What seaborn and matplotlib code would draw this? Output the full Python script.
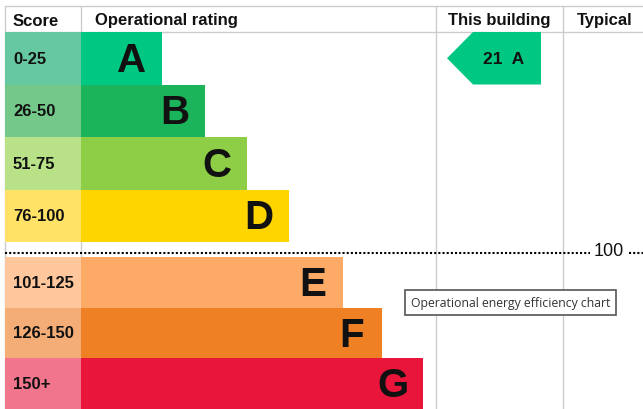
import matplotlib
matplotlib.use("Agg")
import matplotlib.pyplot as plt
import seaborn as sns
from matplotlib.patches import Polygon, Rectangle

# ==============================
# DATA
# ==============================

bands = ["A", "B", "C", "D", "E", "F", "G"]
score_ranges = ["0-25", "26-50", "51-75", "76-100", "101-125", "126-150", "150+"]
# length of each rating bar (px units)
bar_lengths = [81, 124, 166, 208, 262, 301, 342]
bar_colors = ["#00c781", "#1bb45a", "#8dce46", "#ffd500", "#fcaa65", "#ef8023", "#e9153b"]
score_colors = ["#66c8a0", "#74c98a", "#b9e188", "#ffe266", "#ffc79b", "#f4ad76", "#f2758e"]

building_score = 21
building_band = "A"
threshold = 100
headers = ["Score", "Operational rating", "This building", "Typical"]
tooltip = "Operational energy efficiency chart"

# ==============================
# LAYOUT (pixels)
# ==============================

W, H = 643, 410
LEFT = 5
SCORE_W = 76
COL_X = [5, 81, 436, 563]
HEADER_TEXT_X = [13, 95, 448, 577]
INK = "#111111"

sns.set_style("white")
plt.rcParams["font.family"] = ["Liberation Sans", "DejaVu Sans"]
plt.rcParams["text.color"] = INK

fig = plt.figure(figsize=(W / 100, H / 100), dpi=100)

# background axes in pixel coordinates
bg = fig.add_axes([0, 0, 1, 1])
bg.set_xlim(0, W)
bg.set_ylim(H, 0)
bg.axis("off")

grid_c = "#cccccc"
bg.plot([LEFT, W], [7, 7], color=grid_c, lw=1)
bg.plot([LEFT, W], [33, 33], color=grid_c, lw=1)
for x in COL_X:
    bg.plot([x, x], [7, H], color=grid_c, lw=1)

for txt, x in zip(headers, HEADER_TEXT_X):
    bg.text(x, 21, txt, fontsize=12, fontweight="bold", ha="left", va="center")

# dotted threshold line with "100" label
bg.plot([LEFT, 590], [254, 254], color="black", lw=1.5, linestyle=(0, (1, 1)))
bg.plot([629, W], [254, 254], color="black", lw=1.5, linestyle=(0, (1, 1)))
bg.text(609, 252, str(threshold), fontsize=13, ha="center", va="center")

# tooltip box
bg.add_patch(Rectangle((405, 291), 211, 25, facecolor="white",
                       edgecolor="#555555", lw=1.2, zorder=5))
bg.text(510.5, 303.5, tooltip, fontsize=8.8, family="Open Sans",
        color="#333333", ha="center", va="center", zorder=6)


def draw_block(ax, idx):
    names = [bands[i] for i in idx]
    totals = [SCORE_W + bar_lengths[i] for i in idx]
    scores = [SCORE_W] * len(idx)
    sns.barplot(x=totals, y=names, hue=names, order=names, hue_order=names,
                palette=[bar_colors[i] for i in idx], orient="h", width=1,
                saturation=1, linewidth=0, legend=False, ax=ax)
    sns.barplot(x=scores, y=names, hue=names, order=names, hue_order=names,
                palette=[score_colors[i] for i in idx], orient="h", width=1,
                saturation=1, linewidth=0, legend=False, ax=ax)
    ax.set_xlim(0, W - LEFT)
    ax.set_ylim(len(idx) - 0.5, -0.5)
    ax.set_facecolor("none")
    ax.axis("off")
    for row, i in enumerate(idx):
        ax.text(8, row, score_ranges[i], fontsize=12, fontweight="bold",
                ha="left", va="center")
        ax.text(SCORE_W + bar_lengths[i] - 30, row + 0.03, bands[i], fontsize=29,
                fontweight="bold", ha="center", va="center")


top = fig.add_axes([LEFT / W, 1 - 243 / H, (W - LEFT) / W, 210 / H])
bot = fig.add_axes([LEFT / W, 0, (W - LEFT) / W, 152 / H])
draw_block(top, [0, 1, 2, 3])
draw_block(bot, [4, 5, 6])

# "This building" arrow in the row of its band
r = bands.index(building_band)
arrow = Polygon([(442, r), (468, r - 0.5), (536, r - 0.5), (536, r + 0.5), (468, r + 0.5)],
                closed=True, facecolor=bar_colors[r], edgecolor="none")
top.add_patch(arrow)
top.text(499, r, f"{building_score}  {building_band}", fontsize=12.5,
         fontweight="bold", ha="center", va="center")

fig.savefig("out.png", dpi=100)
